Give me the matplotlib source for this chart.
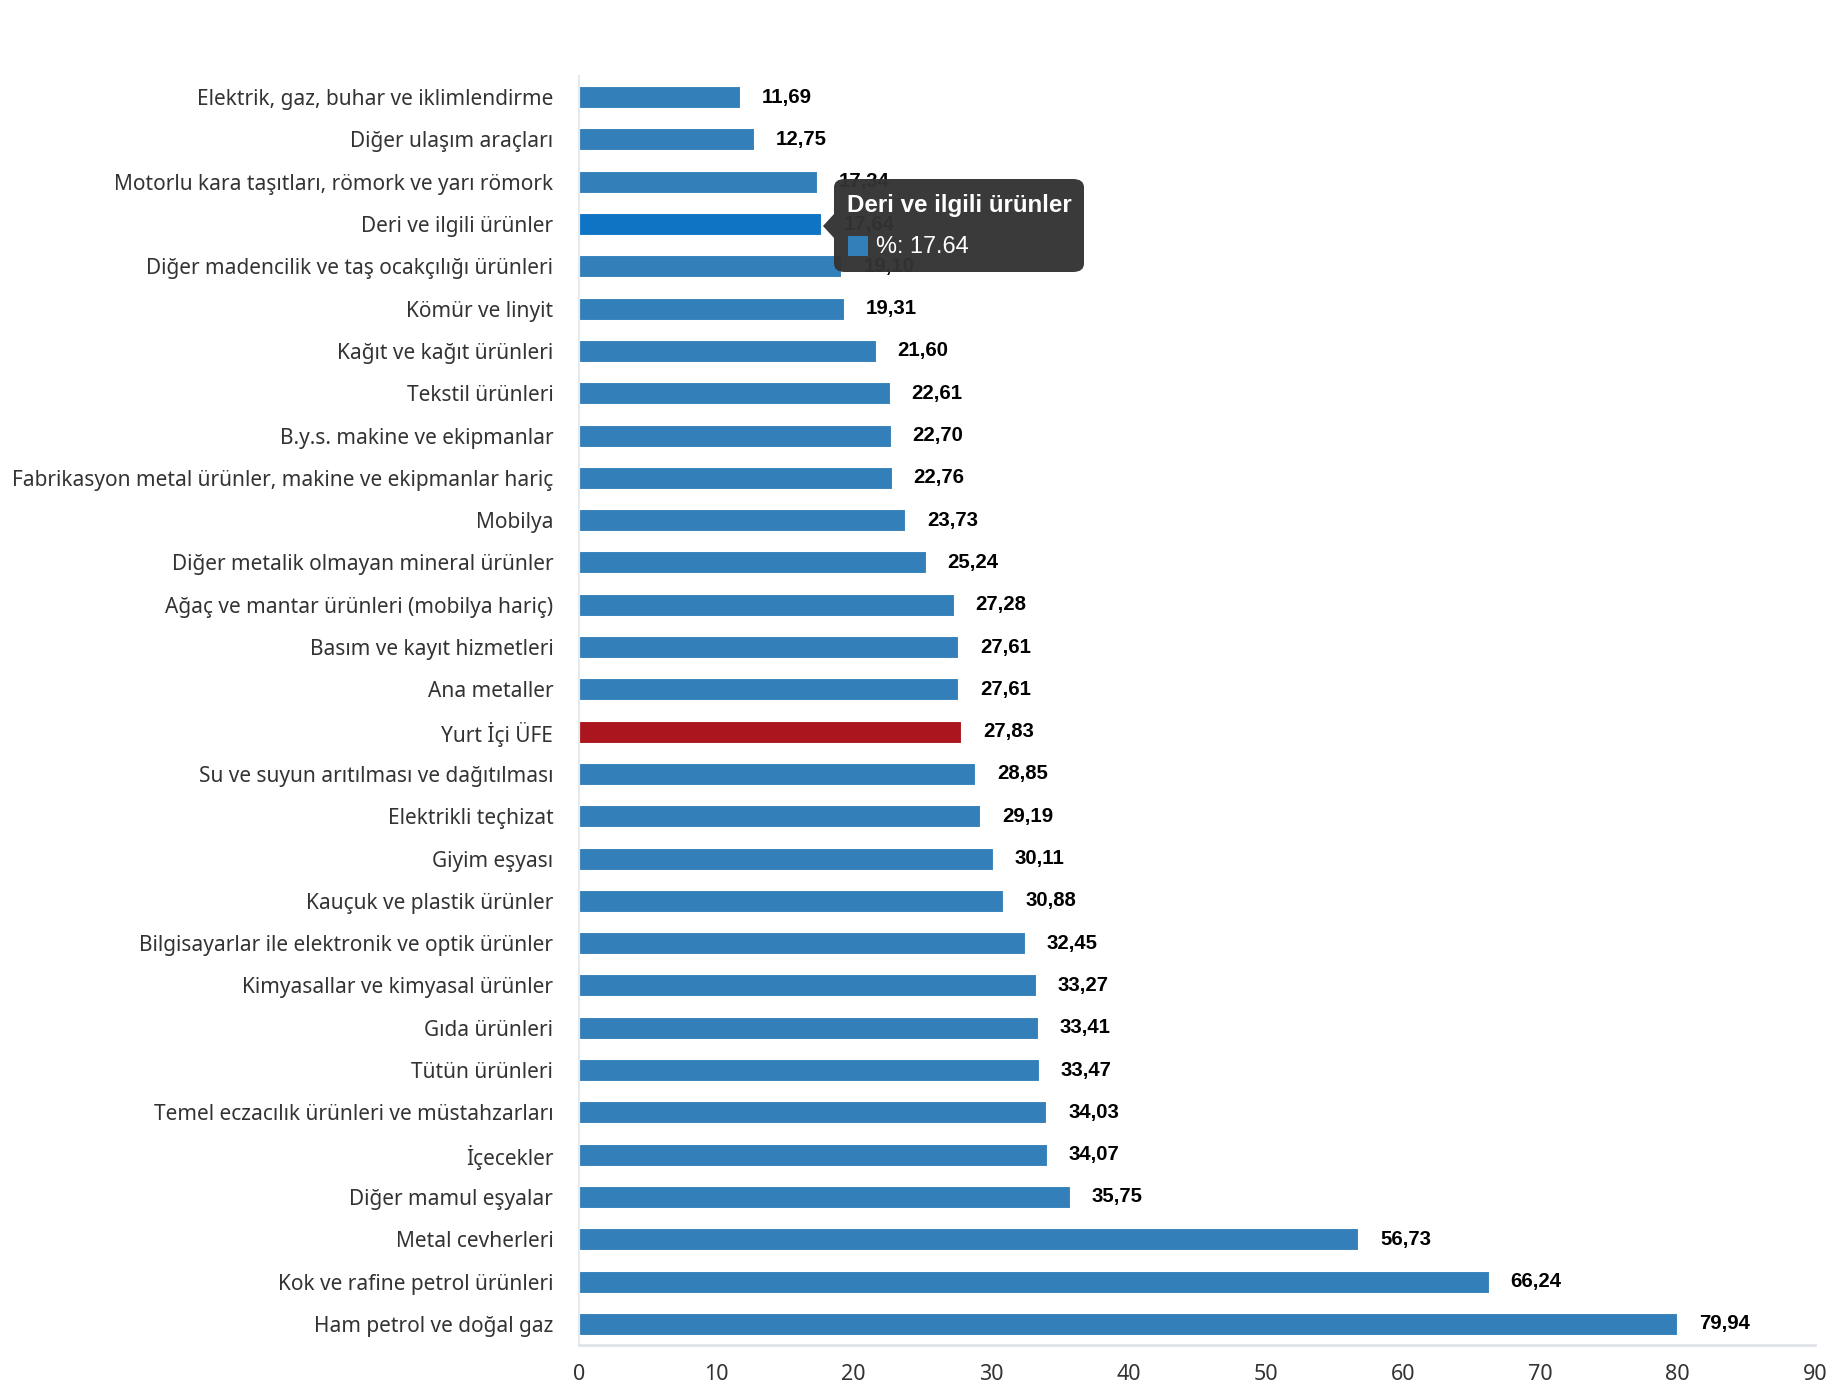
import matplotlib
matplotlib.use("Agg")
import matplotlib.pyplot as plt
from matplotlib.patches import FancyBboxPatch, Polygon, Rectangle

categories = [
    "Elektrik, gaz, buhar ve iklimlendirme",
    "Diğer ulaşım araçları",
    "Motorlu kara taşıtları, römork ve yarı römork",
    "Deri ve ilgili ürünler",
    "Diğer madencilik ve taş ocakçılığı ürünleri",
    "Kömür ve linyit",
    "Kağıt ve kağıt ürünleri",
    "Tekstil ürünleri",
    "B.y.s. makine ve ekipmanlar",
    "Fabrikasyon metal ürünler, makine ve ekipmanlar hariç",
    "Mobilya",
    "Diğer metalik olmayan mineral ürünler",
    "Ağaç ve mantar ürünleri (mobilya hariç)",
    "Basım ve kayıt hizmetleri",
    "Ana metaller",
    "Yurt İçi ÜFE",
    "Su ve suyun arıtılması ve dağıtılması",
    "Elektrikli teçhizat",
    "Giyim eşyası",
    "Kauçuk ve plastik ürünler",
    "Bilgisayarlar ile elektronik ve optik ürünler",
    "Kimyasallar ve kimyasal ürünler",
    "Gıda ürünleri",
    "Tütün ürünleri",
    "Temel eczacılık ürünleri ve müstahzarları",
    "İçecekler",
    "Diğer mamul eşyalar",
    "Metal cevherleri",
    "Kok ve rafine petrol ürünleri",
    "Ham petrol ve doğal gaz",
]
values = [11.69, 12.75, 17.34, 17.64, 19.10, 19.31, 21.60, 22.61, 22.70, 22.76,
          23.73, 25.24, 27.28, 27.61, 27.61, 27.83, 28.85, 29.19, 30.11, 30.88,
          32.45, 33.27, 33.41, 33.47, 34.03, 34.07, 35.75, 56.73, 66.24, 79.94]
x_ticks = [0, 10, 20, 30, 40, 50, 60, 70, 80, 90]
highlight_cat = "Deri ve ilgili ürünler"
total_cat = "Yurt İçi ÜFE"
tooltip_title = "Deri ve ilgili ürünler"
tooltip_value = "%: 17.64"

BLUE = "#337fb9"
HL = "#0f74c4"
RED = "#ab151d"

W, H = 1830, 1400
fig = plt.figure(figsize=(W / 100, H / 100), dpi=100)
ax = fig.add_axes([579 / W, 1 - 1345 / H, (1815 - 579) / W, (1345 - 76) / H])

colors = []
for c in categories:
    if c == highlight_cat:
        colors.append(HL)
    elif c == total_cat:
        colors.append(RED)
    else:
        colors.append(BLUE)

ypos = list(range(len(categories)))
ax.barh(ypos, values, height=0.52, color=colors, edgecolor="#ffffff",
        linewidth=0.8, zorder=2)
ax.set_ylim(len(categories) - 0.5, -0.5)
ax.set_xlim(0, 90)
ax.set_xticks(x_ticks)
ax.set_xticklabels([str(t) for t in x_ticks], fontsize=15.5, color="#333333",
                   family="Noto Sans")
ax.set_yticks(ypos)
ax.set_yticklabels(categories, fontsize=15, color="#333333", family="Noto Sans")
ax.tick_params(axis="y", length=0, pad=18.5)
ax.tick_params(axis="x", length=0, pad=14)

for s in ["top", "right"]:
    ax.spines[s].set_visible(False)
ax.spines["bottom"].set_color("#e0e3e8")
ax.spines["bottom"].set_linewidth(2)
ax.spines["left"].set_color("#e6e9ee")
ax.spines["left"].set_linewidth(1.5)

# Tooltip (drawn in pixel coordinates of the figure)
def px(x, y):
    return (x / W, 1 - y / H)

box = FancyBboxPatch(px(834, 272), (1084 - 834) / W, (272 - 179) / H,
                     boxstyle="round,pad=0,rounding_size=0.006",
                     transform=fig.transFigure, facecolor="#333333",
                     edgecolor="none", alpha=0.97, zorder=5)
fig.patches.append(box)
tri = Polygon([px(834, 214), px(823, 226), px(834, 238)], closed=True,
              transform=fig.transFigure, facecolor="#333333", edgecolor="none",
              alpha=0.97, zorder=5)
fig.patches.append(tri)
sq = Rectangle(px(848, 256), 20 / W, 20 / H, transform=fig.transFigure,
               facecolor=BLUE, edgecolor="none", zorder=6)
fig.patches.append(sq)
fig.text(847 / W, 1 - 212 / H, tooltip_title, color="white", fontsize=17.4,
         fontweight="bold", family="Liberation Sans", va="baseline", ha="left",
         zorder=7)
fig.text(876 / W, 1 - 253 / H, tooltip_value, color="white", fontsize=16.9,
         family="Liberation Sans", va="baseline", ha="left", zorder=7)

# Value labels (drawn above tooltip)
for y, v in zip(ypos, values):
    ax.annotate(f"{v:.2f}".replace(".", ","), xy=(v, y), xytext=(22, 0),
                textcoords="offset pixels", va="center", ha="left",
                fontsize=14.7, fontweight="bold", color="#000000",
                family="Liberation Sans", zorder=10, annotation_clip=False)

fig.savefig("out.png", dpi=100)
